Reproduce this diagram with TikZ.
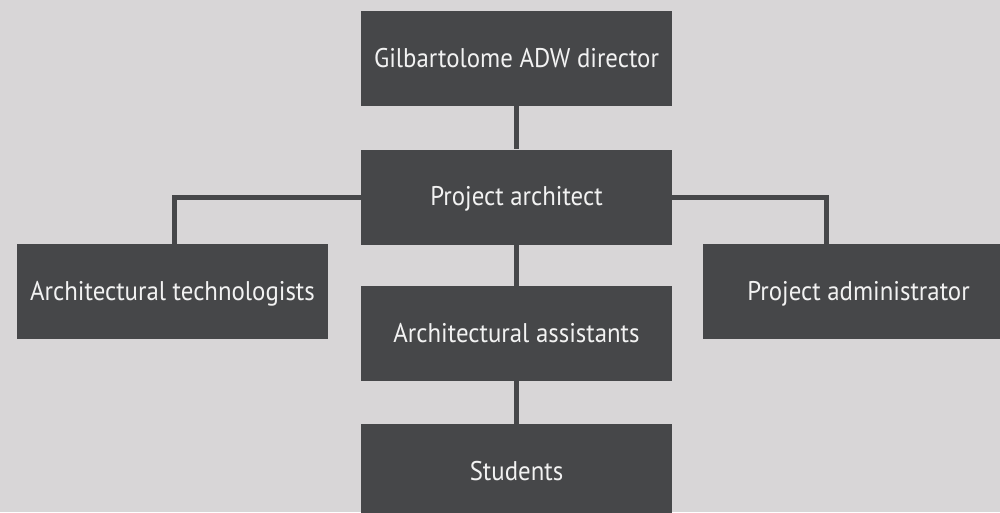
\documentclass[tikz,border=0pt]{standalone}
\usepackage{fontspec}
\setmainfont[FakeStretch=0.92]{PT Sans}
\usetikzlibrary{calc}
\definecolor{bggrey}{HTML}{D8D6D7}
\definecolor{boxgrey}{HTML}{464749}
\definecolor{txtwhite}{HTML}{F2F2F2}
\begin{document}
\begin{tikzpicture}[x=1pt,y=-1pt,
  orgbox/.style={fill=boxgrey, draw=none, inner sep=0pt, text=txtwhite,
    font=\fontsize{27}{30}\selectfont, minimum height=95pt,
    minimum width=311pt, text height=19pt, text depth=2pt},
  link/.style={draw=boxgrey, line width=5pt}]
  \fill[bggrey] (0,0) rectangle (1000,512);
  \useasboundingbox (0,0) rectangle (1000,512);

  % boxes
  \node[orgbox] (dir) at (516.5,58.5) {Gilbartolome ADW director};
  \node[orgbox] (pa)  at (516.5,197) {Project architect};
  \node[orgbox] (aa)  at (516.5,333.5) {Architectural assistants};
  \node[orgbox] (st)  at (516.5,471.5) {Students};
  \node[orgbox] (at)  at (172.5,291.5) {Architectural technologists};
  \node[orgbox] (pad) at (858.5,291.5) {Project administrator};
  \coordinate (padtop) at (826.5,244);

  % connectors
  \draw[link] (dir.south) -- (pa.north);
  \draw[link] (pa.south) -- (aa.north);
  \draw[link] (aa.south) -- (st.north);
  \draw[link] (pa.west) -| ($(at.north)+(2,0)$);
  \draw[link] (pa.east) -| (padtop);
\end{tikzpicture}
\end{document}
